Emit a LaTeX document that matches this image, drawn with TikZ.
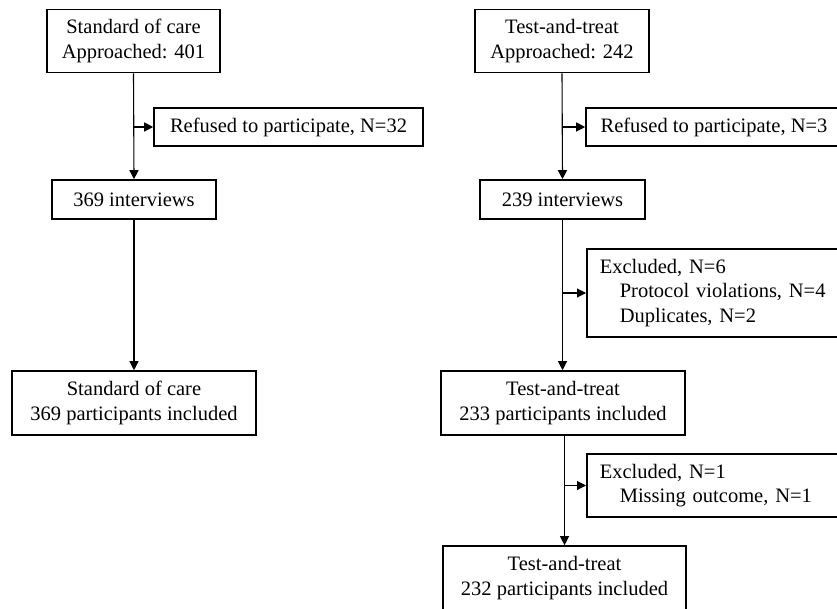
\documentclass[tikz,border=0pt]{standalone}
\usepackage{fontspec}
\setmainfont{Liberation Serif}
\usetikzlibrary{arrows.meta}
\tikzset{
  box/.style={draw=black, line width=1.6pt, inner sep=0pt, align=center, font=\fontsize{20.5}{24.5}\selectfont},
  sidebox/.style={draw=black, line width=1.6pt, inner xsep=13pt, inner ysep=0pt, anchor=west, align=left, text width=230pt, font=\fontsize{20.5}{24.5}\selectfont},
  conn/.style={line width=1.1pt, -{Triangle[length=9pt,width=9pt]}},
  line/.style={line width=1.1pt}
}
\begin{document}
\begin{tikzpicture}[x=1pt,y=-1pt]
\useasboundingbox (0,0) rectangle (837,608);
\fill[white] (0,0) rectangle (837,608);
\clip (0,0) rectangle (837,608);
% Standard of care arm
\node[box, minimum width=173pt, minimum height=63pt] (soc1) at (133.5,41) {Standard of care\\Approached: 401};
\node[box, minimum width=269pt, minimum height=38pt] (socref) at (288.5,127) {Refused to participate,\ N=32};
\node[box, minimum width=164pt, minimum height=39pt] (socint) at (134,199.5) {369 interviews};
\node[box, minimum width=244pt, minimum height=64pt] (socfin) at (134,403) {Standard of care\\369 participants included};
\coordinate (socb1) at (soc1.south |- socref.west);
\draw[conn] (soc1.south) -- (socint.north);
\draw[conn] (socb1) -- (socref.west);
\draw[conn] (socint.south) -- (socfin.north);
% Test-and-treat arm
\node[box, minimum width=174pt, minimum height=63pt] (tt1) at (562,41) {Test-and-treat\\Approached: 242};
\node[box, minimum width=256pt, minimum height=38pt] (ttref) at (714,127) {Refused to participate,\ N=3};
\node[box, minimum width=165pt, minimum height=39pt] (ttint) at (562.5,199.5) {239 interviews};
\node[sidebox, minimum height=88pt] (ttexc) at (586,293) {Excluded, N=6\\\hspace*{20pt}Protocol violations, N=4\\\hspace*{20pt}Duplicates, N=2};
\node[box, minimum width=244pt, minimum height=64pt] (tt233) at (563,403) {Test-and-treat\\233 participants included};
\node[sidebox, minimum height=63pt] (ttexc2) at (586,485.5) {Excluded, N=1\\\hspace*{20pt}Missing outcome, N=1};
\node[box, minimum width=243pt, minimum height=64pt] (tt232) at (564.5,578) {Test-and-treat\\232 participants included};
\coordinate (ttb1) at (tt1.south |- ttref.west);
\coordinate (ttb2) at (ttint.south |- ttexc.west);
\coordinate (ttb3) at (tt232.north |- ttexc2.west);
\draw[conn] (tt1.south) -- (ttint.north);
\draw[conn] (ttb1) -- (ttref.west);
\draw[conn] (ttint.south) -- (ttint.south |- tt233.north);
\draw[conn] (ttb2) -- (ttexc.west);
\draw[conn] (tt232.north |- tt233.south) -- (tt232.north);
\draw[conn] (ttb3) -- (ttexc2.west);
\end{tikzpicture}
\end{document}
